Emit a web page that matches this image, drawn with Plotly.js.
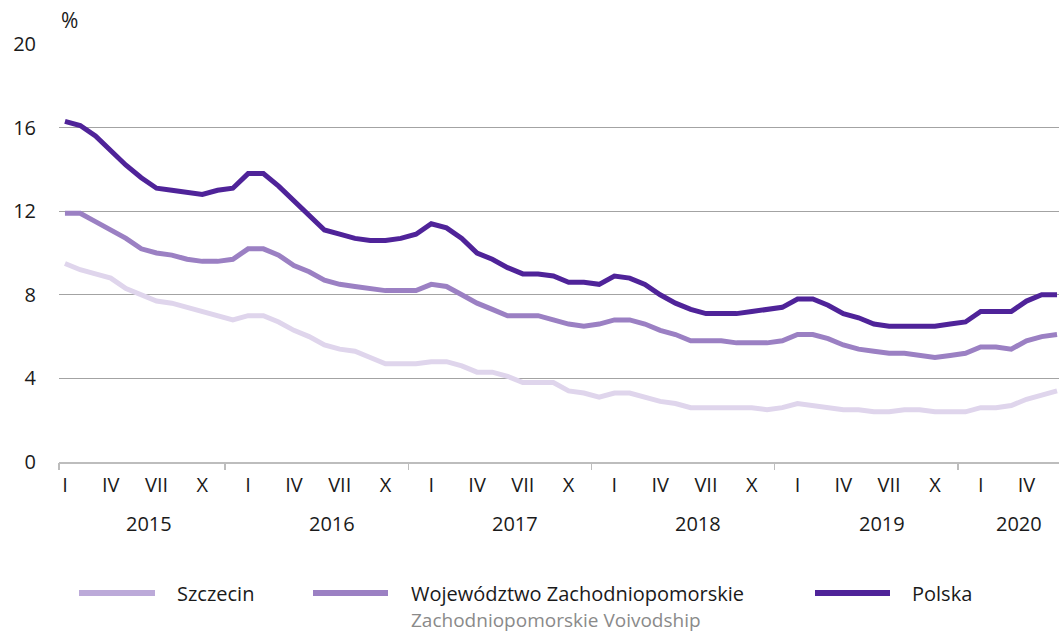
<!DOCTYPE html>
<html>
<head>
<meta charset="utf-8">
<script src="https://cdn.plot.ly/plotly-3.0.1.min.js"></script>
<style>html,body{margin:0;padding:0;background:#fff;}#chart{width:1059px;height:635px;}</style>
</head>
<body>
<div id="chart"></div>
<script>
// Months Jan 2015 .. Jun 2020 (index 0..65)
const monthLabels = ["I","II","III","IV","V","VI","VII","VIII","IX","X","XI","XII"];
const years = ["2015","2016","2017","2018","2019","2020"];
const shownMonths = ["I","IV","VII","X"];

const szczecin = [
  9.5, 9.2, 9.0, 8.8, 8.3, 8.0, 7.7, 7.6, 7.4, 7.2, 7.0, 6.8,
  7.0, 7.0, 6.7, 6.3, 6.0, 5.6, 5.4, 5.3, 5.0, 4.7, 4.7, 4.7,
  4.8, 4.8, 4.6, 4.3, 4.3, 4.1, 3.8, 3.8, 3.8, 3.4, 3.3, 3.1,
  3.3, 3.3, 3.1, 2.9, 2.8, 2.6, 2.6, 2.6, 2.6, 2.6, 2.5, 2.6,
  2.8, 2.7, 2.6, 2.5, 2.5, 2.4, 2.4, 2.5, 2.5, 2.4, 2.4, 2.4,
  2.6, 2.6, 2.7, 3.0, 3.2, 3.4
];
const wojewodztwo = [
  11.9, 11.9, 11.5, 11.1, 10.7, 10.2, 10.0, 9.9, 9.7, 9.6, 9.6, 9.7,
  10.2, 10.2, 9.9, 9.4, 9.1, 8.7, 8.5, 8.4, 8.3, 8.2, 8.2, 8.2,
  8.5, 8.4, 8.0, 7.6, 7.3, 7.0, 7.0, 7.0, 6.8, 6.6, 6.5, 6.6,
  6.8, 6.8, 6.6, 6.3, 6.1, 5.8, 5.8, 5.8, 5.7, 5.7, 5.7, 5.8,
  6.1, 6.1, 5.9, 5.6, 5.4, 5.3, 5.2, 5.2, 5.1, 5.0, 5.1, 5.2,
  5.5, 5.5, 5.4, 5.8, 6.0, 6.1
];
const polska = [
  16.3, 16.1, 15.6, 14.9, 14.2, 13.6, 13.1, 13.0, 12.9, 12.8, 13.0, 13.1,
  13.8, 13.8, 13.2, 12.5, 11.8, 11.1, 10.9, 10.7, 10.6, 10.6, 10.7, 10.9,
  11.4, 11.2, 10.7, 10.0, 9.7, 9.3, 9.0, 9.0, 8.9, 8.6, 8.6, 8.5,
  8.9, 8.8, 8.5, 8.0, 7.6, 7.3, 7.1, 7.1, 7.1, 7.2, 7.3, 7.4,
  7.8, 7.8, 7.5, 7.1, 6.9, 6.6, 6.5, 6.5, 6.5, 6.5, 6.6, 6.7,
  7.2, 7.2, 7.2, 7.7, 8.0, 8.0
];
const seriesNames = ["Szczecin", "Województwo Zachodniopomorskie", "Polska"];
const seriesSub = ["", "Zachodniopomorskie Voivodship", ""];
const yTicks = [0, 4, 8, 12, 16, 20];

const n = polska.length;
const xIdx = Array.from({length: n}, (_, i) => i);

// tick labels for every quarter start
const tickVals = [], tickText = [];
for (let i = 0; i < n; i++) {
  const m = monthLabels[i % 12];
  if (shownMonths.includes(m)) { tickVals.push(i); tickText.push(m); }
}
// year separators
const sepVals = [-0.39];
for (let k = 0; k < years.length - 1; k++) sepVals.push(10.5 + 12 * k);

const lineColors = ["#DFD5EC", "#9B80C3", "#4F2399"];
const legendColors = ["#BCAAD9", "#9B80C3", "#4F2399"];
const font = "Open Sans, Noto Sans, sans-serif";
const txt = "#1a1a1a";
const fs = 20;

const traces = [szczecin, wojewodztwo, polska].map((ys, k) => ({
  x: xIdx, y: ys, type: "scatter", mode: "lines", name: seriesNames[k],
  line: {color: lineColors[k], width: 5, shape: "linear"},
  hoverinfo: "skip", showlegend: false
}));

// plot geometry in px for legend placement
const L = 59, T = 44, W = 1000, H = 418;
const px2x = px => (px - L) / W;
const py2y = py => (T + H - py) / H;

const annotations = [];
years.forEach((yr, k) => {
  const start = 12 * k, end = Math.min(12 * k + 11, n - 1);
  annotations.push({
    x: (start + end) / 2, xref: "x", y: 0, yref: "paper", yshift: -61,
    text: yr, showarrow: false, xanchor: "center", yanchor: "middle",
    font: {family: font, size: fs, color: txt}
  });
});
annotations.push({
  x: 0, xref: "paper", xanchor: "left", xshift: 0, y: 1, yref: "paper", yshift: 24, yanchor: "middle",
  text: "%", showarrow: false, font: {family: font, size: 21, color: txt}
});

const legendPos = [{l0: 79, l1: 155, t: 176}, {l0: 313, l1: 388, t: 410}, {l0: 815, l1: 890, t: 911}];
const shapes = [];
legendPos.forEach((p, k) => {
  shapes.push({type: "line", xref: "paper", yref: "paper",
    x0: px2x(p.l0), x1: px2x(p.l1), y0: py2y(593), y1: py2y(593),
    line: {color: legendColors[k], width: 6}});
  let label = seriesNames[k];
  if (seriesSub[k]) {
    label += '<br><span style="color:#8a8a8a;font-size:19px">' + seriesSub[k] + '</span>';
  }
  annotations.push({x: px2x(p.t), xref: "paper", xanchor: "left", align: "left",
    y: py2y(579), yref: "paper", yanchor: "top", borderpad: 0,
    text: label, showarrow: false, font: {family: font, size: fs, color: txt}});
});

const layout = {
  width: 1059, height: 635,
  margin: {l: L, r: 0, t: T, b: 635 - T - H, pad: 0},
  paper_bgcolor: "#fff", plot_bgcolor: "#fff",
  showlegend: false,
  xaxis: {
    range: [-0.39, 65.13], tickvals: tickVals, ticktext: tickText,
    ticks: "", showgrid: false, zeroline: false,
    showline: true, linecolor: "#bdbdbd", linewidth: 1.5,
    tickfont: {family: font, size: fs, color: txt}, ticklabelstandoff: 4,
    fixedrange: true
  },
  xaxis2: {
    overlaying: "x", anchor: "y", side: "bottom", matches: "x",
    range: [-0.39, 65.13], tickvals: sepVals, ticks: "outside", ticklen: 7,
    tickcolor: "#bdbdbd", tickwidth: 1.5, showticklabels: false,
    showgrid: false, zeroline: false, showline: false
  },
  yaxis: {
    range: [0, 20], tickvals: yTicks, ticks: "", showgrid: true,
    gridcolor: "#a3a3a3", gridwidth: 1.3, zeroline: false, showline: false,
    tickfont: {family: font, size: fs, color: txt}, ticklabelstandoff: 22,
    fixedrange: true
  },
  shapes: shapes,
  annotations: annotations
};

traces.push({x: [0], y: [null], xaxis: "x2", type: "scatter", mode: "lines", showlegend: false, hoverinfo: "skip"});

Plotly.newPlot("chart", traces, layout, {displayModeBar: false, staticPlot: true});
</script>
</body>
</html>
